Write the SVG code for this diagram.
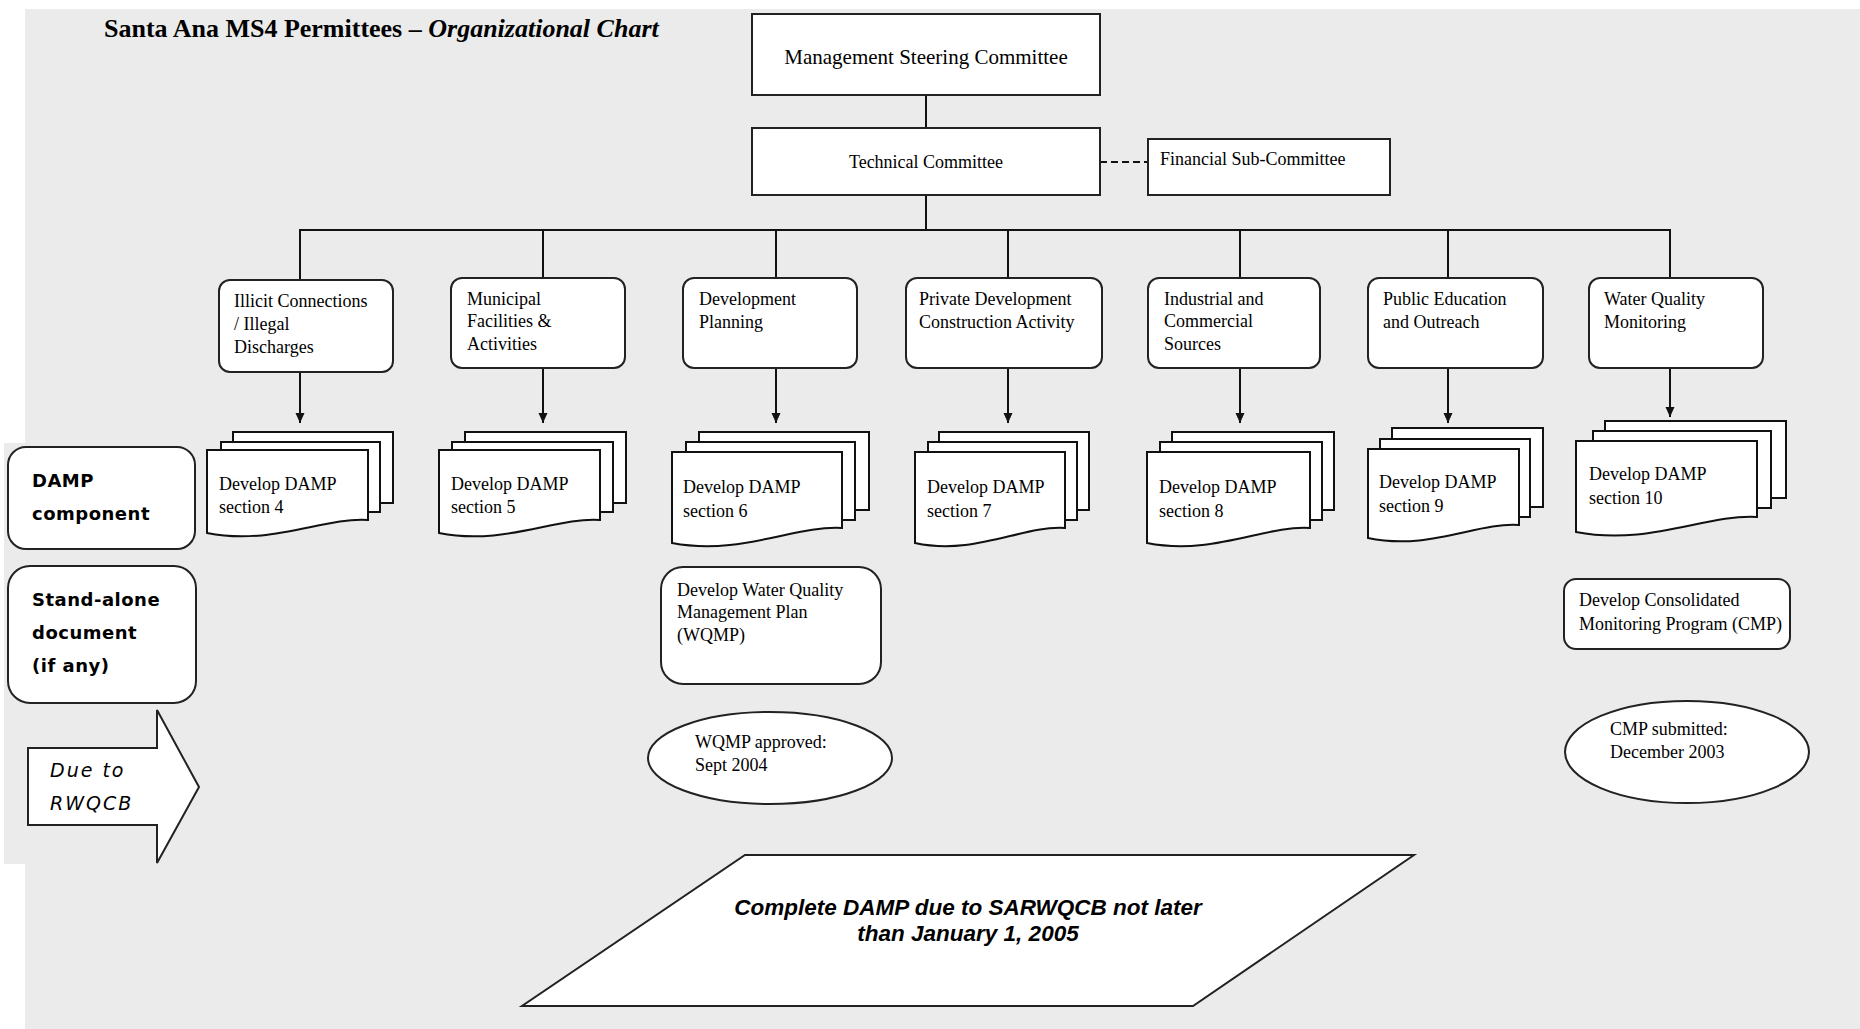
<svg xmlns="http://www.w3.org/2000/svg" width="1860" height="1029" viewBox="0 0 1860 1029">
<defs>
<style>
.bg{fill:#EBEBEB;stroke:none}
.box{fill:#fff;stroke:#222;stroke-width:2}
.doc{fill:#fff;stroke:#111;stroke-width:2}
.ln{stroke:#111;stroke-width:2;fill:none}
.t{font-family:"Liberation Serif","Times New Roman",serif;font-size:18px;fill:#000}
.leg{font-family:"DejaVu Sans",sans-serif;font-size:18px;font-weight:bold;fill:#000;letter-spacing:0.5px}
.legi{font-family:"DejaVu Sans",sans-serif;font-size:19px;font-style:italic;fill:#000;letter-spacing:2px}
.big{font-family:"Liberation Sans",Arial,sans-serif;font-size:22.5px;font-weight:bold;font-style:italic;fill:#000}
</style>
<marker id="ah" markerUnits="userSpaceOnUse" markerWidth="10" markerHeight="10" refX="10" refY="4.5" orient="auto">
<path d="M0,0 L10,4.5 L0,9 Z" fill="#111"/>
</marker>
</defs>
<rect x="0" y="0" width="1860" height="1029" fill="#fff"/>
<rect class="bg" x="25" y="9" width="1835" height="1020"/>
<rect class="bg" x="4" y="443" width="30" height="421"/>

<text id="title" x="104" y="37" style="font-family:'Liberation Serif','Times New Roman',serif;font-size:26px;font-weight:bold">Santa Ana MS4 Permittees – <tspan font-style="italic">Organizational Chart</tspan></text>

<g id="connectors">
<line class="ln" x1="926" y1="95" x2="926" y2="128"/>
<line class="ln" x1="1100" y1="162" x2="1148" y2="162" stroke-dasharray="7 4"/>
<line class="ln" x1="926" y1="195" x2="926" y2="230"/>
<line class="ln" x1="299" y1="230" x2="1671" y2="230"/>
<line class="ln" x1="300" y1="230" x2="300" y2="280"/>
<line class="ln" x1="543" y1="230" x2="543" y2="278"/>
<line class="ln" x1="776" y1="230" x2="776" y2="278"/>
<line class="ln" x1="1008" y1="230" x2="1008" y2="278"/>
<line class="ln" x1="1240" y1="230" x2="1240" y2="278"/>
<line class="ln" x1="1448" y1="230" x2="1448" y2="278"/>
<line class="ln" x1="1670" y1="230" x2="1670" y2="278"/>
<line class="ln" x1="300" y1="372" x2="300" y2="423" marker-end="url(#ah)"/>
<line class="ln" x1="543" y1="368" x2="543" y2="423" marker-end="url(#ah)"/>
<line class="ln" x1="776" y1="368" x2="776" y2="423" marker-end="url(#ah)"/>
<line class="ln" x1="1008" y1="368" x2="1008" y2="423" marker-end="url(#ah)"/>
<line class="ln" x1="1240" y1="368" x2="1240" y2="423" marker-end="url(#ah)"/>
<line class="ln" x1="1448" y1="368" x2="1448" y2="423" marker-end="url(#ah)"/>
<line class="ln" x1="1670" y1="368" x2="1670" y2="417" marker-end="url(#ah)"/>
</g>

<g id="msc">
<rect class="box" x="752" y="14" width="348" height="81"/>
<text class="t" x="926" y="64" text-anchor="middle" style="font-size:21px">Management Steering Committee</text>
</g>
<g id="tech">
<rect class="box" x="752" y="128" width="348" height="67"/>
<text class="t" x="926" y="168" text-anchor="middle">Technical Committee</text>
</g>
<g id="fin">
<rect class="box" x="1148" y="139" width="242" height="56"/>
<text class="t" x="1160" y="165">Financial Sub-Committee</text>
</g>

<g id="c1">
<rect class="box" x="219" y="280" width="174" height="92" rx="11"/>
<text class="t" x="234" y="307">Illicit Connections</text>
<text class="t" x="234" y="330">/ Illegal</text>
<text class="t" x="234" y="353">Discharges</text>
</g>
<g id="c2">
<rect class="box" x="451" y="278" width="174" height="90" rx="11"/>
<text class="t" x="467" y="305">Municipal</text>
<text class="t" x="467" y="327">Facilities &amp;</text>
<text class="t" x="467" y="350">Activities</text>
</g>
<g id="c3">
<rect class="box" x="683" y="278" width="174" height="90" rx="11"/>
<text class="t" x="699" y="305">Development</text>
<text class="t" x="699" y="328">Planning</text>
</g>
<g id="c4">
<rect class="box" x="906" y="278" width="196" height="90" rx="11"/>
<text class="t" x="919" y="305">Private Development</text>
<text class="t" x="919" y="328">Construction Activity</text>
</g>
<g id="c5">
<rect class="box" x="1148" y="278" width="172" height="90" rx="11"/>
<text class="t" x="1164" y="305">Industrial and</text>
<text class="t" x="1164" y="327">Commercial</text>
<text class="t" x="1164" y="350">Sources</text>
</g>
<g id="c6">
<rect class="box" x="1368" y="278" width="175" height="90" rx="11"/>
<text class="t" x="1383" y="305">Public Education</text>
<text class="t" x="1383" y="328">and Outreach</text>
</g>
<g id="c7">
<rect class="box" x="1589" y="278" width="174" height="90" rx="11"/>
<text class="t" x="1604" y="305">Water Quality</text>
<text class="t" x="1604" y="328">Monitoring</text>
</g>

<g id="d4">
<rect class="doc" x="233" y="432" width="160" height="71"/>
<rect class="doc" x="221" y="442" width="159" height="70"/>
<path class="doc" d="M207,450 H368 V520 C323,517 272,546 207,533 Z"/>
<text class="t" x="219" y="490">Develop DAMP</text>
<text class="t" x="219" y="513">section 4</text>
</g>
<g id="d5">
<rect class="doc" x="465" y="432" width="161" height="71"/>
<rect class="doc" x="452" y="442" width="161" height="70"/>
<path class="doc" d="M439,450 H600 V520 C555,517 504,546 439,533 Z"/>
<text class="t" x="451" y="490">Develop DAMP</text>
<text class="t" x="451" y="513">section 5</text>
</g>
<g id="d6">
<rect class="doc" x="699" y="432" width="170" height="78"/>
<rect class="doc" x="686" y="442" width="169" height="78"/>
<path class="doc" d="M672,452 H842 V528 C795,525 741,556 672,543 Z"/>
<text class="t" x="683" y="493">Develop DAMP</text>
<text class="t" x="683" y="517">section 6</text>
</g>
<g id="d7">
<rect class="doc" x="939" y="432" width="150" height="78"/>
<rect class="doc" x="928" y="442" width="149" height="78"/>
<path class="doc" d="M915,452 H1065 V528 C1023,525 975,556 915,543 Z"/>
<text class="t" x="927" y="493">Develop DAMP</text>
<text class="t" x="927" y="517">section 7</text>
</g>
<g id="d8">
<rect class="doc" x="1172" y="432" width="162" height="78"/>
<rect class="doc" x="1160" y="442" width="162" height="78"/>
<path class="doc" d="M1147,452 H1310 V528 C1265,525 1213,556 1147,543 Z"/>
<text class="t" x="1159" y="493">Develop DAMP</text>
<text class="t" x="1159" y="517">section 8</text>
</g>
<g id="d9">
<rect class="doc" x="1392" y="428" width="151" height="79"/>
<rect class="doc" x="1380" y="439" width="150" height="78"/>
<path class="doc" d="M1368,449 H1519 V525 C1477,522 1429,551 1368,538 Z"/>
<text class="t" x="1379" y="488">Develop DAMP</text>
<text class="t" x="1379" y="512">section 9</text>
</g>
<g id="d10">
<rect class="doc" x="1605" y="421" width="181" height="77"/>
<rect class="doc" x="1593" y="431" width="178" height="77"/>
<path class="doc" d="M1576,441 H1757 V517 C1706,514 1649,546 1576,532 Z"/>
<text class="t" x="1589" y="480">Develop DAMP</text>
<text class="t" x="1589" y="504">section 10</text>
</g>

<g id="wqmp">
<rect class="box" x="661" y="567" width="220" height="117" rx="22"/>
<text class="t" x="677" y="596">Develop Water Quality</text>
<text class="t" x="677" y="618">Management Plan</text>
<text class="t" x="677" y="641">(WQMP)</text>
</g>
<g id="wqmp-date">
<ellipse class="box" cx="770" cy="758" rx="122" ry="46"/>
<text class="t" x="695" y="748">WQMP approved:</text>
<text class="t" x="695" y="771">Sept 2004</text>
</g>
<g id="cmp">
<rect class="box" x="1564" y="579" width="226" height="70" rx="12"/>
<text class="t" x="1579" y="606">Develop  Consolidated</text>
<text class="t" x="1579" y="630">Monitoring Program (CMP)</text>
</g>
<g id="cmp-date">
<ellipse class="box" cx="1687" cy="752" rx="122" ry="51"/>
<text class="t" x="1610" y="735">CMP submitted:</text>
<text class="t" x="1610" y="758">December 2003</text>
</g>

<g id="leg-damp">
<rect class="box" x="8" y="447" width="187" height="102" rx="18"/>
<text class="leg" x="32" y="487">DAMP</text>
<text class="leg" x="32" y="520">component</text>
</g>
<g id="leg-stand">
<rect class="box" x="8" y="566" width="188" height="137" rx="22"/>
<text class="leg" x="32" y="606">Stand-alone</text>
<text class="leg" x="32" y="639">document</text>
<text class="leg" x="32" y="672">(if any)</text>
</g>
<g id="leg-due">
<path class="box" d="M28,748 H157 V710 L199,787 L157,863 V825 H28 Z"/>
<text class="legi" x="50" y="777">Due to</text>
<text class="legi" x="50" y="810">RWQCB</text>
</g>

<g id="final">
<path class="box" d="M745,855 H1414 L1193,1006 H522 Z"/>
<text class="big" x="968" y="915" text-anchor="middle">Complete DAMP due to SARWQCB not later</text>
<text class="big" x="968" y="941" text-anchor="middle">than January 1, 2005</text>
</g>
</svg>
